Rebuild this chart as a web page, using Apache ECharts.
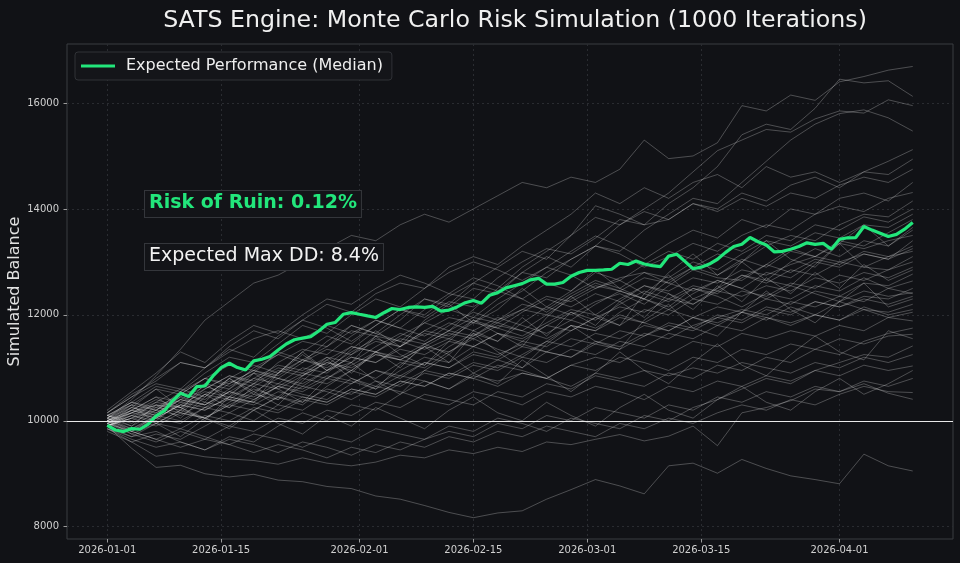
<!DOCTYPE html>
<html>
<head>
<meta charset="utf-8">
<script src="https://cdn.jsdelivr.net/npm/echarts@6/dist/echarts.min.js"></script>
<style>
  html, body { margin: 0; padding: 0; background: #111216; }
  #chart { width: 960px; height: 563px; }
</style>
</head>
<body>
<div id="chart"></div>
<script>
// simulation starts 2026-01-01, one point per day for the median
const startDate = Date.UTC(2026, 0, 1);
const DAY = 86400000;

// tick labels on both axes
const xTickDates = ['2026-01-01', '2026-01-15', '2026-02-01', '2026-02-15', '2026-03-01', '2026-03-15', '2026-04-01'];
const yTicks = [8000, 10000, 12000, 14000, 16000];

// median path (daily, 100 days)
const medianBalance = [
  9915, 9826, 9796, 9852, 9840, 9934, 10091, 10185, 10374, 10519,
  10456, 10645, 10657, 10846, 11005, 11086, 11005, 10960, 11130, 11161,
  11212, 11337, 11450, 11530, 11560, 11590, 11696, 11822, 11855, 12011,
  12043, 12011, 11980, 11950, 12040, 12120, 12100, 12140, 12150, 12140,
  12160, 12070, 12090, 12150, 12230, 12270, 12220, 12370, 12420, 12510,
  12550, 12590, 12660, 12690, 12580, 12580, 12610, 12730, 12800, 12840,
  12840, 12850, 12861, 12974, 12950, 13018, 12960, 12930, 12912, 13110,
  13144, 13010, 12870, 12900, 12960, 13050, 13180, 13290, 13333, 13460,
  13380, 13320, 13188, 13200, 13239, 13290, 13360, 13330, 13350, 13239,
  13428, 13455, 13460, 13667, 13600, 13541, 13478, 13520, 13617, 13743
];

// sample paths, read every 3 days
const simStepDays = 3;
const simPaths = [
  [10050,10400,10850,11350,11900,12250,12600,12750,13000,13250,13500,13400,13700,13900,13750,14000,14250,14500,14400,14600,14500,14750,15300,14950,15000,15250,15950,15850,16150,16050,16400,16500,16620,16690],
  [9980,10150,10300,10250,10600,10850,10700,11100,11350,11250,11600,11900,11750,12100,12400,12300,12700,13000,13250,13150,13450,13800,13700,14100,14400,14800,15400,15600,15500,15900,16450,16380,16420,16125],
  [10100,10350,10200,10500,10800,10650,10900,11300,11150,11400,11700,11600,11900,12300,12150,12500,12400,12800,13100,12900,13300,13700,14000,14300,14700,15100,15300,15500,15450,15700,15850,15810,16060,15950],
  [9900,10050,10350,10600,10450,10800,11050,10900,11300,11600,11450,11800,12100,12000,12350,12600,12450,12800,12700,13050,13300,13200,13600,13900,14200,14100,14500,14900,15300,15600,15800,15870,15720,15470],
  [10150,10500,10750,11100,11000,11400,11700,11550,11900,12200,12050,12400,12600,12500,12900,13100,12950,13300,13600,13900,14300,14100,14400,14200,14500,14650,14400,14800,14600,14700,14500,14700,14900,15120],
  [10000,10250,10100,10450,10700,10600,11000,11250,11100,11500,11800,11650,12000,12300,12200,12600,12900,13200,13050,13500,14060,13900,13700,13800,14100,14000,14300,14150,14450,14600,14400,14700,14650,14940],
  [9950,10100,10300,10200,10500,10750,10650,10900,11150,11050,11400,11300,11600,11850,11700,12100,12500,12900,13200,13500,13840,13700,13950,13800,14100,13950,14200,14050,14300,14200,14450,14600,14500,14750],
  [10050,9900,10150,10400,10300,10600,10900,10800,11100,11350,11250,11600,11500,11850,12100,11950,12300,12600,12900,13200,13490,13300,13050,13350,13600,13450,13800,13650,14000,13900,14200,14300,14150,14500],
  [9900,10100,10000,10350,10250,10550,10800,10700,11000,10900,11250,11500,11400,11700,11950,11850,12200,12450,12800,13050,13300,13150,12900,13100,13350,13200,13500,13700,13600,13900,14050,13950,14200,14310],
  [10000,9850,10050,10300,10200,10450,10350,10650,10900,10800,11050,11300,11200,11450,11700,11600,11900,12100,12000,12300,12550,12450,12700,12600,12900,13150,13000,13300,13500,13400,13700,13900,13850,14150],
  [10200,10550,10900,11300,11100,11500,11800,11650,12000,12300,12200,12500,12750,12600,12400,12700,12550,12300,12600,12450,12800,12650,12950,13200,13050,13350,13200,13500,13400,13700,13600,13850,13750,14000],
  [9950,10200,10100,10400,10650,10500,10800,11050,10950,11200,11100,11400,11650,11500,11800,12050,11900,12200,12100,12400,12650,12500,12800,12700,13000,12850,13150,13400,13300,13550,13450,13700,13650,13900],
  [10100,10000,10250,10150,10050,10350,10600,10450,10800,10700,10950,11300,11150,11050,11400,11650,11500,11850,12150,12000,12250,12400,12200,12550,12850,12700,12650,12950,13250,13100,13400,13300,13550,13800],
  [9850,9700,9950,10200,10050,9900,10200,10450,10300,10650,10950,10800,11100,11000,11300,11550,11350,11200,11500,11800,11700,12050,12300,12150,12500,12400,12750,12650,13000,13250,13100,13400,13300,13600],
  [10150,10450,10700,10600,11000,11350,11200,11600,11900,11750,11500,11800,12100,11950,12250,12150,12450,12300,12050,12350,12600,12450,12300,12650,12900,12750,13050,12900,13200,13100,13350,13250,13400,13500],
  [9900,10150,10400,10250,10500,10400,10700,10600,10850,11100,10950,11250,11150,11400,11300,11600,11850,11700,12000,11900,12200,12450,12300,12100,12400,12650,12500,12800,12700,13000,12900,13150,13050,13400],
  [9800,9600,9750,9650,9900,10150,10000,10300,10200,10500,10800,10650,10950,11200,11100,11400,11650,11500,11800,12050,11900,12200,12450,12300,12550,12450,12700,12950,12800,13050,12950,13200,13100,13300],
  [10050,10300,10200,10550,10800,10700,10950,10850,11150,11000,11300,11550,11400,11700,11600,11900,11750,12050,12300,12150,12400,12250,12550,12400,12200,12500,12750,12600,12850,12750,13000,12900,13100,13200],
  [9950,9800,10050,9950,10250,10150,10400,10650,10500,10400,10700,10950,10800,11100,11000,11300,11200,11500,11400,11700,11950,11800,12100,12000,12300,12200,12450,12350,12600,12500,12750,12650,12850,13000],
  [10100,10350,10250,10500,10400,10700,10950,10800,10650,10950,11200,11100,11350,11250,11500,11400,11650,11550,11800,11700,11950,12150,12050,12300,12200,12450,12350,12550,12450,12700,12600,12800,12700,12900],
  [9900,10100,9950,9850,10100,10000,10250,10150,10400,10300,10550,10450,10700,10950,10850,11100,11000,11250,11500,11400,11650,11550,11800,11700,11950,12150,12050,12300,12200,12450,12350,12600,12550,12770],
  [10050,10350,10650,10550,10900,11200,11100,11450,11800,11650,12000,12300,12150,12500,12800,13000,12850,12650,12900,12750,12500,12650,12400,12250,12500,12350,12150,12400,12300,12550,12450,12700,12500,12640],
  [9850,9650,9500,9600,9450,9700,9600,9900,10150,10000,10300,10200,10500,10750,10600,10900,11150,11000,11300,11200,11500,11400,11650,11550,11800,11950,11850,12100,12000,12250,12150,12350,12300,12500],
  [10000,10200,10450,10350,10600,10850,10750,11000,10900,11150,11400,11300,11550,11450,11700,11950,11850,12100,12350,12250,12500,12700,12800,12600,12450,12650,12500,12300,12550,12400,12250,12450,12350,12420],
  [10100,9950,10200,10450,10300,10550,10400,10650,10550,10800,10700,10950,10850,11100,11000,11250,11150,11400,11300,11550,11450,11700,11600,11850,11750,12000,11900,12150,12050,12250,12150,12300,12200,12350],
  [10150,10450,10800,11100,11000,11300,11550,11700,11550,11800,11650,11900,11750,11600,11850,11700,11950,11800,11650,11900,11750,12000,11850,12100,11950,11800,12050,11900,12150,12000,12250,12100,12050,12200],
  [9900,10050,9900,10150,10050,10300,10200,10450,10350,10600,10500,10750,10650,10900,10800,11050,10950,11200,11100,11350,11250,11500,11400,11650,11550,11800,11700,11950,11850,12000,11900,12100,11950,12050],
  [10050,9850,10100,10000,10250,10400,10300,10550,10450,10350,10600,10500,10750,10650,10900,10800,11050,10950,10800,11050,11200,11100,11350,11250,11500,11400,11650,11550,11700,11600,11800,11700,11950,11885],
  [9950,9750,9600,9800,9650,9900,9800,10050,9950,10200,10100,10350,10250,10500,10400,10300,10550,10450,10700,10600,10850,10750,10650,10900,10800,11050,10950,11200,11100,11350,11250,11500,11650,11750],
  [10000,10150,10050,10300,10200,10450,10350,10200,10450,10350,10600,10500,10750,10650,10900,10800,10650,10900,10800,11050,10950,11200,11100,10950,11200,11100,11350,11250,11450,11350,11550,11450,11600,11634],
  [9950,9800,9650,9850,9700,9550,9750,9650,9500,9700,9600,9850,9750,9650,9900,9800,10050,9950,9800,10050,9950,9850,10100,10000,10250,10400,10600,10800,10700,10950,11100,11250,11200,11413],
  [10050,10250,10150,10400,10300,10550,10450,10700,10600,10850,10750,10600,10850,10750,10600,10850,10750,10900,10800,10650,10900,10800,10950,10850,11000,10900,11100,11000,10900,11100,11000,11200,11100,11250],
  [9900,10050,10200,10100,10350,10250,10500,10400,10650,10550,10400,10650,10550,10400,10300,10550,10450,10300,10550,10450,10650,10550,10400,10650,10550,10750,10650,10850,10750,10950,10850,11050,10950,11035],
  [9900,9700,9800,9600,9450,9650,9550,9400,9600,9500,9350,9550,9450,9650,9800,9700,9950,9850,10100,10000,10250,10150,10050,10300,10200,10450,10350,10550,10450,10650,10550,10750,10650,10800],
  [10000,9800,9650,9500,9650,9550,9400,9550,9450,9300,9500,9400,9600,9500,9700,9600,9800,9700,9900,9800,9700,9950,9850,10050,9950,10150,10300,10200,10400,10300,10500,10650,10550,10533],
  [9850,9600,9330,9400,9320,9280,9250,9180,9300,9200,9150,9220,9350,9300,9450,9380,9500,9420,9600,9550,9650,9740,9620,9710,9900,9530,10150,10250,10380,10600,10550,10700,10520,10406],
  [9900,9480,9120,9160,9000,8940,8990,8880,8850,8760,8720,8580,8520,8400,8270,8170,8260,8300,8520,8700,8890,8770,8620,9150,9200,9010,9270,9100,8960,8890,8810,9370,9150,9052],
  [10100,10300,10600,10500,10800,11050,10950,11250,11500,11400,11800,11650,11500,11350,11550,11400,11250,11450,11300,11200,11450,11350,11600,11800,11700,11950,12100,12000,12250,12150,12350,12250,12500,12400],
  [9950,10150,10350,10250,10050,10300,10550,10800,10700,10950,11200,11100,11400,11650,11550,11850,11750,11600,11850,12100,12000,12300,12550,12450,12700,12600,12850,12750,12950,13100,13000,13150,13050,13250],
  [10000,10200,10050,10300,10550,10450,10700,10950,10850,11100,11000,11250,11150,11400,11650,11550,11800,11700,11550,11800,11700,11950,11850,11700,11950,11850,12050,11950,11800,12000,11900,12150,12000,12100],
  [10000,10300,9950,10200,10700,10400,10350,10900,11300,10950,11100,11600,11250,11050,11500,11900,11650,11400,11950,12350,12000,11800,12400,12750,12300,12500,13000,12650,12550,12950,13350,12900,12850,13100],
  [10050,9800,10100,10550,10350,10800,10550,10300,10750,11150,10800,10600,11050,11400,11100,11650,11300,11000,11450,11800,11500,11350,11900,12200,11750,11600,12050,12450,12100,11850,12250,12600,12150,12300],
  [9950,10250,10600,10250,10000,10450,10900,10600,10350,10800,11100,10750,10500,10950,11250,10900,10700,11150,10850,10550,10900,11300,10950,10700,11100,11450,11050,10850,11250,11600,11300,11150,11700,11550],
  [10100,9900,10300,10050,10450,10800,10500,10900,11250,10950,11350,11700,11400,11900,12200,11850,12100,12500,12150,12450,12850,12500,12300,12800,13150,12750,13000,13400,13050,12900,13350,13700,13300,13650],
  [9900,10200,10450,10150,10500,10250,10650,10400,10850,11200,10900,11300,11000,11450,11250,11700,11500,11950,11600,12050,11800,12250,11950,12400,12100,12550,12250,12700,12400,12800,12500,12950,12650,12850],
  [10000,9750,9950,9700,10050,9850,10200,9950,9750,10100,9900,10250,10050,9850,10200,10450,10150,10000,10350,10100,9900,10250,10500,10200,10050,10400,10650,10350,10200,10550,10800,10500,10700,10950]
];

const breakEven = 10000;

function ts(dateStr) {
  const p = dateStr.split('-').map(Number);
  return Date.UTC(p[0], p[1] - 1, p[2]);
}
function fmtDate(v) {
  const d = new Date(v);
  const mm = String(d.getUTCMonth() + 1).padStart(2, '0');
  const dd = String(d.getUTCDate()).padStart(2, '0');
  return d.getUTCFullYear() + '-' + mm + '-' + dd;
}

const lastDay = startDate + (medianBalance.length - 1) * DAY;
const pad = (lastDay - startDate) * 0.05;
const xTickValues = xTickDates.map(ts);

const font = 'DejaVu Sans';
const chart = echarts.init(document.getElementById('chart'), null, { renderer: 'canvas' });

const simSeries = simPaths.map((path, i) => ({
  name: 'sim' + i,
  type: 'line',
  data: path.map((v, k) => [startDate + k * simStepDays * DAY, v]),
  showSymbol: false,
  symbol: 'none',
  silent: true,
  z: 2,
  lineStyle: { color: 'rgba(255,255,255,0.25)', width: 1 }
}));

const option = {
  backgroundColor: '#111216',
  animation: false,
  title: {
    text: 'SATS Engine: Monte Carlo Risk Simulation (1000 Iterations)',
    left: 510,
    textAlign: 'center',
    top: 4,
    textStyle: { color: '#f0f0f0', fontSize: 23.7, fontWeight: 'normal', fontFamily: font }
  },
  legend: {
    data: ['Expected Performance (Median)'],
    left: 75,
    top: 52,
    padding: [6, 9, 6, 6],
    itemWidth: 34,
    itemHeight: 3,
    itemGap: 10,
    icon: 'rect',
    backgroundColor: '#141519',
    borderColor: '#303237',
    borderWidth: 1,
    borderRadius: 3,
    textStyle: { color: '#eeeeee', fontSize: 16, fontFamily: font, padding: [0, 0, 0, 6] }
  },
  grid: {
    left: 67, right: 7, top: 44, bottom: 24,
    show: true,
    borderColor: '#3a3c41',
    borderWidth: 1,
    containLabel: false,
    outerBoundsMode: 'none'
  },
  xAxis: {
    // dates kept as ms timestamps on a value axis so ticks can sit on the 1st and 15th
    type: 'value',
    min: startDate - pad,
    max: lastDay + pad,
    axisLine: { show: false },
    axisTick: { show: true, length: 3.5, lineStyle: { color: '#9a9a9a' }, customValues: xTickValues },
    axisLabel: {
      color: '#d0d0d0', fontSize: 10, fontFamily: font, margin: 6,
      customValues: xTickValues,
      formatter: v => fmtDate(v)
    },
    splitLine: { show: true, lineStyle: { color: '#2a2c31', type: [2, 3], width: 1 } }
  },
  yAxis: {
    type: 'value',
    min: 7768,
    max: 17114,
    name: 'Simulated Balance',
    nameLocation: 'middle',
    nameGap: 44,
    nameMoveOverlap: false,
    nameTextStyle: { color: '#e2e2e2', fontSize: 16, fontFamily: font },
    axisLine: { show: false },
    axisTick: { show: true, length: 3.5, lineStyle: { color: '#9a9a9a' }, customValues: yTicks },
    axisLabel: {
      color: '#d0d0d0', fontSize: 10, fontFamily: font, margin: 8,
      customValues: yTicks,
      formatter: v => String(v)
    },
    splitLine: { show: true, lineStyle: { color: '#2a2c31', type: [2, 3], width: 1 } }
  },
  series: simSeries.concat([
    {
      name: 'breakeven',
      type: 'line',
      data: [],
      silent: true,
      z: 3,
      markLine: {
        silent: true,
        symbol: 'none',
        label: { show: false },
        lineStyle: { color: '#e8e8e8', width: 1.2, type: 'solid' },
        data: [{ yAxis: breakEven }]
      }
    },
    {
      name: 'Expected Performance (Median)',
      type: 'line',
      data: medianBalance.map((v, k) => [startDate + k * DAY, v]),
      showSymbol: false,
      symbol: 'none',
      z: 4,
      itemStyle: { color: '#22e67b' },
      lineStyle: { color: '#22e67b', width: 3.2 }
    }
  ]),
  graphic: [
    {
      type: 'text',
      left: 144,
      top: 190,
      z: 10,
      style: {
        text: 'Risk of Ruin: 0.12%',
        fill: '#22e67b',
        font: 'bold 19px "DejaVu Sans"',
        backgroundColor: '#131418',
        borderColor: '#34363b',
        borderWidth: 1,
        padding: [3, 4, 4, 4]
      }
    },
    {
      type: 'text',
      left: 144,
      top: 243,
      z: 10,
      style: {
        text: 'Expected Max DD: 8.4%',
        fill: '#f2f2f2',
        font: '19px "DejaVu Sans"',
        backgroundColor: '#131418',
        borderColor: '#34363b',
        borderWidth: 1,
        padding: [3, 4, 4, 4]
      }
    }
  ]
};

chart.setOption(option);
</script>
</body>
</html>
